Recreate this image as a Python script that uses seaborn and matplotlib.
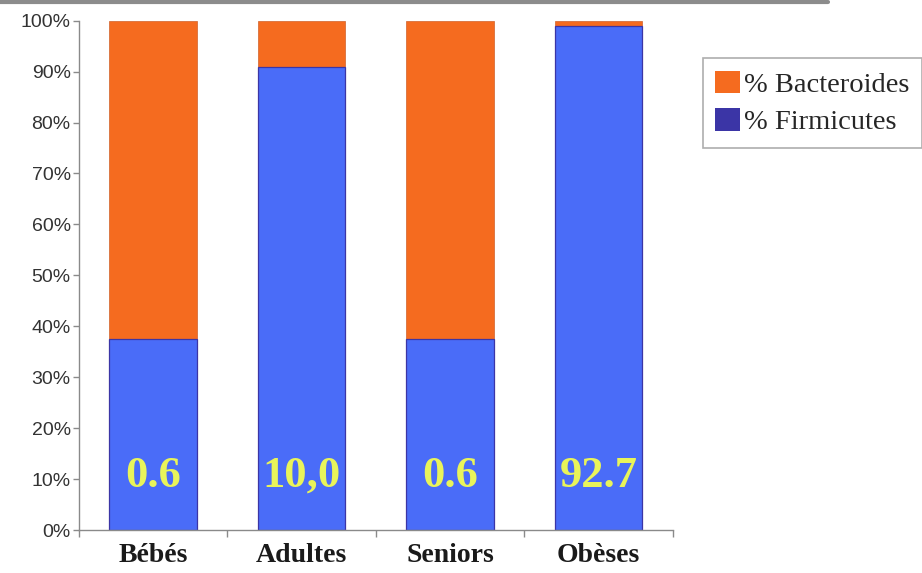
import matplotlib
matplotlib.use("Agg")
import matplotlib.pyplot as plt
from matplotlib.lines import Line2D
from matplotlib.patches import Patch
import seaborn as sns
import pandas as pd

# Groups and Firmicutes/Bacteroides ratio shown on each bar
groups = ["Bébés", "Adultes", "Seniors", "Obèses"]
ratio_values = [0.6, 10.0, 0.6, 92.7]
ratio_labels = ["0.6", "10,0", "0.6", "92.7"]
series_names = ["% Bacteroides", "% Firmicutes"]
y_ticks = [0, 10, 20, 30, 40, 50, 60, 70, 80, 90, 100]

# Share of each phylum derived from the ratio F/B
firmicutes = [r / (1 + r) * 100 for r in ratio_values]
total = [100.0] * len(groups)
df = pd.DataFrame({"group": groups, "firmicutes": firmicutes, "total": total})

ORANGE = "#f56b1f"
BLUE = "#4a6cf8"
INDIGO = "#3b35a6"
YELLOW = "#e9f45a"

sns.set_style("white")
plt.rcParams["font.family"] = ["Liberation Sans", "DejaVu Sans"]

fig = plt.figure(figsize=(9.22, 5.73), dpi=100)
ax = fig.add_axes([0.0857, 0.075, 0.644, 0.889])

# Stacked bars: full-height Bacteroides bar behind, Firmicutes share in front
sns.barplot(data=df, x="group", y="total", color=ORANGE, saturation=1,
            width=0.59, edgecolor="#d0612a", linewidth=0.5, ax=ax)
sns.barplot(data=df, x="group", y="firmicutes", color=BLUE, saturation=1,
            width=0.59, edgecolor=INDIGO, linewidth=0.9, ax=ax)

for i, lab in enumerate(ratio_labels):
    ax.text(i, 10.7, lab, ha="center", va="center", color=YELLOW,
            fontsize=32, fontweight="bold", family="Liberation Serif")

ax.set_xlim(-0.5, 3.5)
ax.set_ylim(0, 100)
ax.set_yticks(y_ticks)
ax.set_yticklabels([f"{t}%" for t in y_ticks])
ax.set_xlabel("")
ax.set_ylabel("")

for side in ["top", "right"]:
    ax.spines[side].set_visible(False)
for side in ["left", "bottom"]:
    ax.spines[side].set_color("#8a8a8a")
    ax.spines[side].set_linewidth(1.0)

ax.tick_params(axis="y", which="major", direction="out", length=4, width=1,
               color="#8a8a8a", labelsize=14, labelcolor="#333333", pad=2,
               left=True)
ax.tick_params(axis="x", which="major", length=0, pad=9)
for t in ax.get_xticklabels():
    t.set_fontfamily("Liberation Serif")
    t.set_fontweight("bold")
    t.set_fontsize(20)
    t.set_color("#1a1a1a")

# Category separators on the x axis
ax.set_xticks([-0.5, 0.5, 1.5, 2.5, 3.5], minor=True)
ax.tick_params(axis="x", which="minor", direction="out", length=5, width=1,
               color="#8a8a8a", bottom=True)

handles = [Patch(facecolor=ORANGE, edgecolor="none"),
           Patch(facecolor=INDIGO, edgecolor="none")]
leg = fig.legend(handles, series_names, loc="upper left",
                 bbox_to_anchor=(0.762, 0.899), frameon=True, fancybox=False,
                 shadow=False, prop={"family": "Liberation Serif", "size": 20.5},
                 handlelength=0.85, handleheight=0.85, handletextpad=0.15,
                 labelspacing=0.35, borderpad=0.45, borderaxespad=0)
leg.get_frame().set_edgecolor("#9a9a9a")
leg.get_frame().set_linewidth(1.2)

# Gray rule along the top edge of the figure
fig.add_artist(Line2D([0, 0.898], [0.997, 0.997], transform=fig.transFigure,
                      color="#8c8c8c", linewidth=3))

fig.savefig("out.png", dpi=100, facecolor="white")
